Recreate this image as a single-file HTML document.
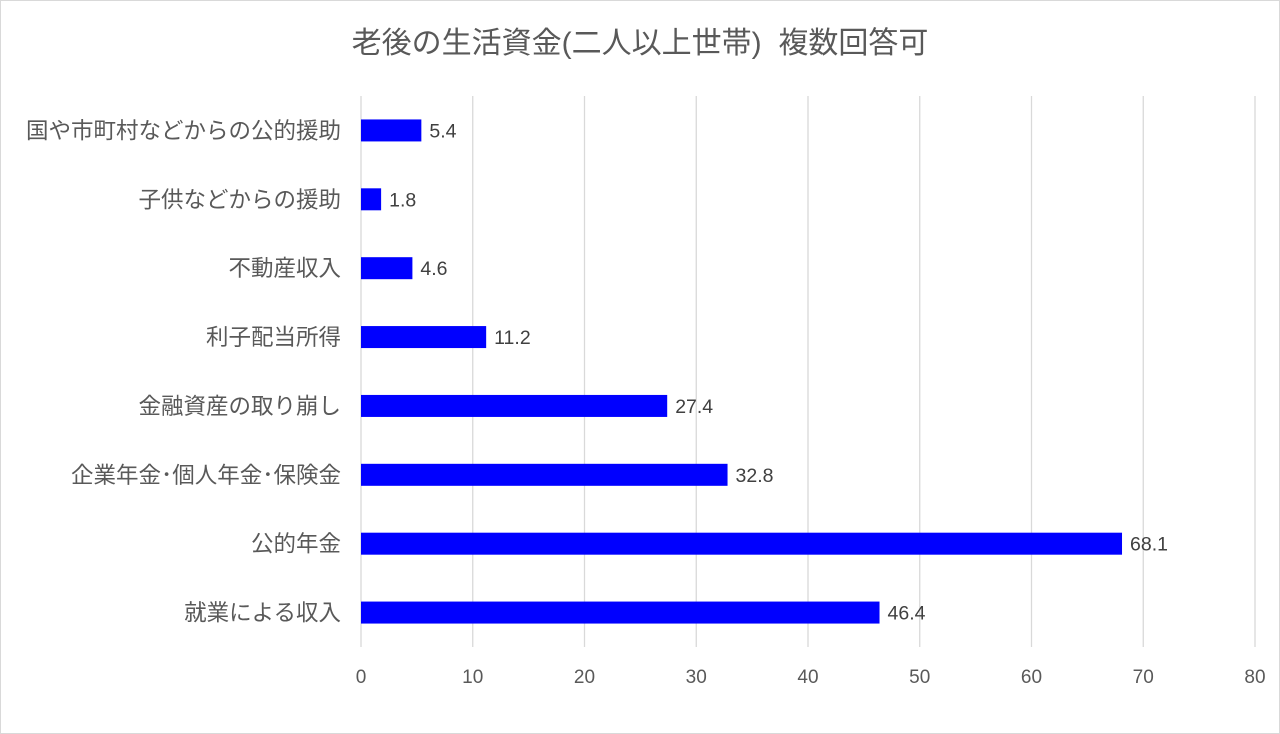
<!DOCTYPE html>
<html><head><meta charset="utf-8">
<style>
body{margin:0;background:#fff;}
svg{display:block;font-family:"Liberation Sans","Noto Sans CJK JP",sans-serif;}
</style></head>
<body>
<svg id="chart" width="1280" height="734">
<rect x="0.5" y="0.5" width="1279" height="733" fill="#fff" stroke="#d9d9d9"/>
<text x="640" y="53" text-anchor="middle" font-size="30" fill="#595959" style="white-space:pre">老後の生活資金(二人以上世帯)  複数回答可</text>
<g id="grid"></g><g id="bars"></g><g id="labels"></g>
</svg>
<script>
const categories=["国や市町村などからの公的援助","子供などからの援助","不動産収入","利子配当所得","金融資産の取り崩し","企業年金･個人年金･保険金","公的年金","就業による収入"];
const values=[5.4,1.8,4.6,11.2,27.4,32.8,68.1,46.4];
const ticks=[0,10,20,30,40,50,60,70,80];
const ns="http://www.w3.org/2000/svg";
const x0=361,x1=1255,yTop=96,yBot=647,maxV=80;
const xs=v=>x0+(v/maxV)*(x1-x0);
const band=(yBot-yTop)/categories.length;
const yc=i=>yTop+band*(i+0.5);
function mk(tag,attrs,parent){const e=document.createElementNS(ns,tag);for(const k in attrs)e.setAttribute(k,attrs[k]);parent.appendChild(e);return e;}
const grid=document.getElementById('grid'),bars=document.getElementById('bars'),labels=document.getElementById('labels');
ticks.forEach(t=>{
  const l=mk('line',{x1:xs(t),x2:xs(t),y1:yTop,y2:yBot,stroke:'#d9d9d9','stroke-width':1.3},grid);
  
  
  const tx=mk('text',{x:xs(t),y:683,'text-anchor':'middle','font-size':19,fill:'#595959'},grid);
  tx.textContent=t;
  
  
});
categories.forEach((c,i)=>{
  const y=yc(i);
  const r=mk('rect',{x:x0,y:y-11,width:xs(values[i])-x0,height:22,fill:'#0000ff'},bars);
  
  
  const v=mk('text',{x:xs(values[i])+8,y:y+7,'font-size':19.5,fill:'#404040'},labels);
  v.textContent=values[i];
  
  
  const t=mk('text',{x:341,y:y+8,'text-anchor':'end','font-size':22.5,fill:'#595959'},labels);
  t.textContent=c;
  
  
});
</script>
</body></html>
